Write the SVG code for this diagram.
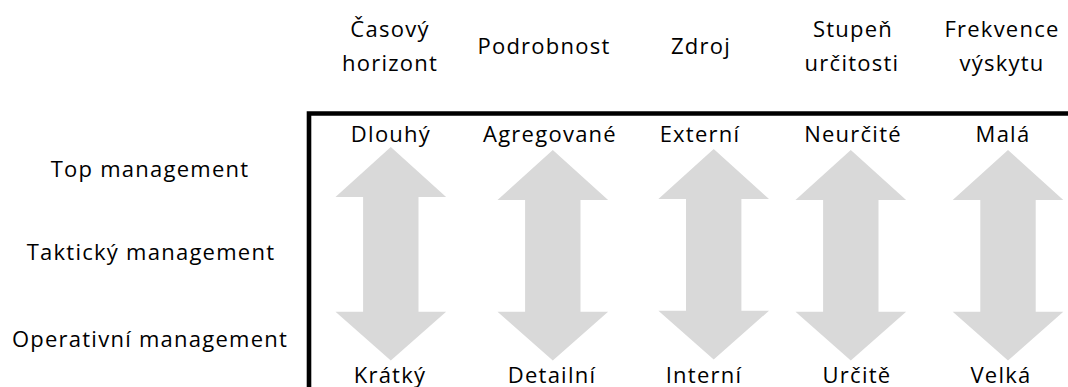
<svg xmlns="http://www.w3.org/2000/svg" width="1068" height="387" viewBox="0 0 1068 387">
  <style>
    text { font-family: "Open Sans", "Noto Sans", "Liberation Sans", sans-serif; font-size: 22px; fill: #000; letter-spacing: 1.25px; text-anchor: middle; }
    .arrow { fill: #D9D9D9; }
    .axis { stroke: #000; stroke-width: 4.6; fill: none; }
  </style>
  <defs>
    <!-- double-headed vertical arrow centred on x=0 -->
    <polygon id="dbl" points="0,150 55.3,200 27.7,200 27.7,311.7 55.3,311.7 0,360.5 -55.3,311.7 -27.7,311.7 -27.7,200 -55.3,200"/>
  </defs>

  <!-- axes -->
  <g id="connectors">
    <polyline class="axis" points="309,387 309,113.5 1068,113.5"/>
  </g>

  <!-- row labels -->
  <g id="row-top"><text x="150" y="177">Top management</text></g>
  <g id="row-tactical"><text x="151" y="260">Taktický management</text></g>
  <g id="row-operative"><text x="150" y="347">Operativní management</text></g>

  <!-- columns -->
  <g id="col-time">
    <text x="390" y="37">Časový</text>
    <text x="390" y="71">horizont</text>
    <polygon class="arrow" points="390.8,147 446.1,197 418.5,197 418.5,311.7 446.1,311.7 390.8,360.5 335.5,311.7 363.1,311.7 363.1,197 335.5,197"/>
    <text x="391" y="142">Dlouhý</text>
    <text x="390" y="383">Krátký</text>
  </g>

  <g id="col-detail">
    <text x="544" y="54">Podrobnost</text>
    <use href="#dbl" class="arrow" x="552.8"/>
    <text x="550" y="142">Agregované</text>
    <text x="552" y="383">Detailní</text>
  </g>

  <g id="col-source">
    <text x="701" y="54">Zdroj</text>
    <use href="#dbl" class="arrow" x="713.7" y="-1"/>
    <text x="700" y="142">Externí</text>
    <text x="704" y="383">Interní</text>
  </g>

  <g id="col-certainty">
    <text x="853" y="37">Stupeň</text>
    <text x="852" y="71">určitosti</text>
    <use href="#dbl" class="arrow" x="850.8"/>
    <text x="853" y="142">Neurčité</text>
    <text x="857" y="383">Určitě</text>
  </g>

  <g id="col-frequency">
    <text x="1002" y="37">Frekvence</text>
    <text x="1002" y="71">výskytu</text>
    <use href="#dbl" class="arrow" x="1008"/>
    <text x="1003" y="142">Malá</text>
    <text x="1001" y="383">Velká</text>
  </g>
</svg>
